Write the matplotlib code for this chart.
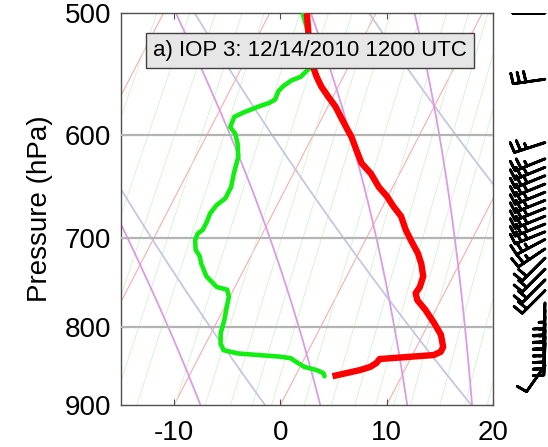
import numpy as np
import matplotlib
matplotlib.use('Agg')
import matplotlib.pyplot as plt
from matplotlib.ticker import FixedLocator, FixedFormatter, NullLocator

plt.rcParams['font.family'] = ['Liberation Sans', 'DejaVu Sans']
plt.rcParams['axes.unicode_minus'] = False

# skew-T geometry: x = T + SKEW * ln(P_REF / p)
SKEW = 32.3
P_REF = 900.0

# temperature profile (hPa, degC)
pres_t = [500, 515, 528, 542, 550, 558, 567, 575, 584, 593,
          602, 614, 626, 636, 649, 658, 668, 678, 692, 703,
          717, 728, 742, 754, 761, 769, 780, 796, 810, 825,
          831, 835, 840, 845, 850, 854, 862]
temp = [-16.5, -15.4, -14.4, -13.3, -12.5, -11.6, -10.4, -9.3, -8.3, -7.3,
        -6.3, -5.2, -4.1, -2.7, -1.3, -0.1, 1.0, 2.2, 3.3, 4.3,
        5.6, 6.4, 7.2, 7.4, 7.3, 7.8, 9.0, 10.5, 11.7, 12.5,
        12.5, 12.0, 7.1, 7.0, 6.6, 5.8, 3.5]

# dewpoint profile (hPa, degC)
pres_td = [501, 515, 543, 550, 553, 558, 562, 569, 572, 575,
           580, 584, 593, 599, 608, 620, 636, 649, 660, 667,
           675, 684, 692, 696, 703, 713, 720, 728, 742, 754,
           757, 765, 777, 792, 808, 821, 829, 833, 835, 837,
           839, 843, 850, 854, 858, 862]
dewp = [-16.8, -15.4, -13.6, -14.0, -14.7, -15.2, -15.4, -15.3, -15.7, -16.5,
        -17.6, -18.3, -18.2, -17.4, -16.7, -16.0, -15.6, -15.2, -15.2, -15.7,
        -15.9, -15.8, -15.8, -16.1, -16.0, -15.5, -14.8, -14.3, -13.2, -11.7,
        -10.6, -10.1, -9.8, -9.4, -9.1, -8.6, -8.0, -6.5, -4.5, -2.4,
        -1.3, -0.7, 0.4, 1.7, 2.5, 2.75]

# winds (hPa, direction deg, speed kt)
wind_p = [500, 552, 607, 622, 630, 638, 646, 654, 662, 670, 678, 686, 694,
          702, 712, 722, 734, 746, 758, 772, 780, 788, 796, 804, 812, 820,
          848]
wind_dir = [270, 262, 252, 248, 248, 248, 248, 248, 248, 248, 248, 248, 248,
            242, 236, 225, 225, 225, 225, 182, 182, 182, 182, 182, 182, 182,
            215]
wind_spd = [30, 30, 25, 25, 25, 25, 25, 25, 25, 25, 25, 25, 25,
            25, 25, 20, 20, 20, 20, 25, 25, 25, 25, 25, 25, 25,
            10]

# background reference lines
isotherms = [-60, -50, -40, -30, -20, -10, 0, 10, 20, 30, 40]
dry_thetas = [280, 300, 320]
moist_thetae = [280, 300, 320, 340]
mix_ratios = [0.6, 0.8, 1.0, 1.25, 1.5, 2.0, 2.5, 3.0, 3.5, 4.0, 5.0, 6.0,
              7.0, 8.0, 9.0, 10.0, 12.0, 14.0, 16.0, 18.0, 20.0]

LV, CP = 2.5e6, 1005.0


def skew_x(t, p):
    return np.asarray(t) + SKEW * np.log(P_REF / np.asarray(p))


def sat_mixing_ratio(t_c, p):
    es = 6.112 * np.exp(17.67 * t_c / (t_c + 243.5))
    return 0.622 * es / (p - es)


def thetae_line(the, p):
    # temperature (degC) along constant saturated theta-e, by bisection
    lo = np.full_like(p, 180.0)
    hi = np.full_like(p, 330.0)
    for _ in range(60):
        mid = 0.5 * (lo + hi)
        ws = sat_mixing_ratio(mid - 273.15, p)
        val = mid * (1000.0 / p) ** 0.2857 * np.exp(LV * ws / (CP * mid))
        too_warm = val > the
        hi = np.where(too_warm, mid, hi)
        lo = np.where(too_warm, lo, mid)
    return 0.5 * (lo + hi) - 273.15


fig = plt.figure(figsize=(5.48, 4.47), dpi=100)
ax = fig.add_axes([121 / 548, 42 / 447, 372 / 548, 391.7 / 447])
ax.set_yscale('log')

p_bg = np.linspace(1000, 450, 551)

for t in isotherms:
    ax.plot(skew_x(t, p_bg), p_bg, color='#ffaaaa', lw=0.8, zorder=1)

for w in mix_ratios:
    e = w * p_bg / (622.0 + w)
    lg = np.log(e / 6.112)
    td = 243.5 * lg / (17.67 - lg)
    ax.plot(skew_x(td, p_bg), p_bg, color='#d6f0d6', lw=0.6, zorder=1)

for th in dry_thetas:
    t = th * (p_bg / 1000.0) ** 0.2857 - 273.15
    ax.plot(skew_x(t, p_bg), p_bg, color='#c6c6e2', lw=1.3, zorder=2)

for the in moist_thetae:
    t = thetae_line(the, p_bg)
    ax.plot(skew_x(t, p_bg), p_bg, color='#dc9ae8', lw=1.3, zorder=2)

for p in [600, 700, 800]:
    ax.axhline(p, color='#b4b4b4', lw=1.6, zorder=3)

ax.plot(skew_x(dewp, pres_td), pres_td, color='#11ee11', lw=3.3,
        solid_capstyle='round', zorder=5)
ax.plot(skew_x(temp, pres_t), pres_t, color='#ff0000', lw=4.6,
        solid_capstyle='butt', zorder=6)

ax.set_xlim(-15, 20)
ax.set_ylim(900, 500)
ax.set_xticks([-10, 0, 10, 20])
ax.set_xticklabels(['-10', '0', '10', '20'])
ax.yaxis.set_major_locator(FixedLocator([500, 600, 700, 800, 900]))
ax.yaxis.set_major_formatter(FixedFormatter(['500', '600', '700', '800', '900']))
ax.yaxis.set_minor_locator(NullLocator())
ax.tick_params(axis='both', direction='in', length=4, width=0.8,
               colors='#505050', labelcolor='black', labelsize=20,
               top=True, right=True)
ax.tick_params(axis='x', pad=11)
ax.tick_params(axis='y', pad=7)
for s in ax.spines.values():
    s.set_color('#505050')
    s.set_linewidth(1.0)

ax.set_ylabel('Pressure (hPa)', fontsize=20)
ax.yaxis.set_label_coords(-0.183, 0.5)

ax.text(0.508, 0.906, 'a) IOP 3: 12/14/2010 1200 UTC', transform=ax.transAxes,
        ha='center', va='center', fontsize=16, zorder=10,
        bbox=dict(boxstyle='square,pad=0.32', fc='#e6e6e6', ec='#404040', lw=1.0))

# wind barbs in a strip right of the diagram, clipped at the 500 hPa top
bax = fig.add_axes([500 / 548, 42 / 447, 48 / 548, 391.7 / 447], sharey=ax)
bax.set_xlim(0, 1)
bax.axis('off')
wd = np.radians(wind_dir)
u = -np.array(wind_spd) * np.sin(wd)
v = -np.array(wind_spd) * np.cos(wd)
bax.barbs(np.full(len(wind_p), 0.9375), wind_p, u, v, length=6.8,
          linewidth=2.0, color='black', clip_on=True,
          sizes=dict(spacing=0.2, height=0.33, width=0.06))

fig.savefig('out.png', dpi=100)
